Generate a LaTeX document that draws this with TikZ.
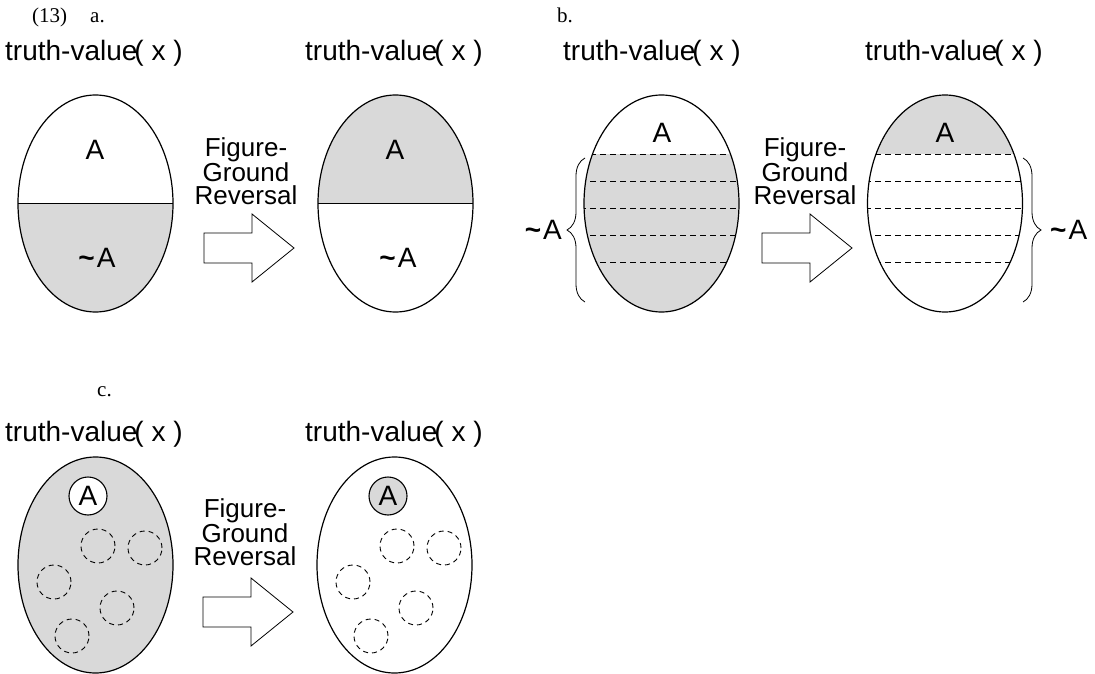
\documentclass[tikz,border=0pt]{standalone}
\usepackage{fontspec}
\setmainfont{Liberation Serif}
\newfontfamily\arialfont{Liberation Sans}
\usetikzlibrary{decorations.pathreplacing}
\definecolor{fillgray}{RGB}{217,217,217}
\tikzset{
  tag/.style={font=\fontsize{21}{21}\selectfont, inner sep=0pt, anchor=base west},
  title/.style={font=\arialfont\fontsize{28}{28}\selectfont, inner sep=0pt, anchor=base west},
  fgr/.style={font=\arialfont\fontsize{26}{23}\selectfont, inner sep=0pt, align=center, anchor=north},
  lbl/.style={font=\arialfont\fontsize{28}{28}\selectfont, inner sep=0pt},
  outline/.style={line width=1.2pt},
  split/.style={line width=1.6pt},
  level/.style={line width=0.8pt, dash pattern=on 6pt off 4pt},
  blob/.style={line width=0.9pt, dash pattern=on 5pt off 4pt},
  curly/.style={line width=0.8pt, decorate, decoration={brace, amplitude=18pt}},
  fatarrow/.pic={\draw[line width=0.8pt, fill=white]
      (0,-15) -- (48,-15) -- (48,-34) -- (90,0) -- (48,34) -- (48,15) -- (0,15) -- cycle;},
}
\newcommand{\notA}{{\bfseries\textasciitilde}\kern2pt A}
\newcommand{\truthval}{truth-value\kern-3pt( x )}
\newcommand{\fgrtext}{Figure-\\Ground\\Reversal}
\begin{document}
\begin{tikzpicture}[x=1pt, y=-1pt]
\useasboundingbox (0,0) rectangle (1095,674);

% ---------- headings ----------
\node[tag] (n13) at (32,23) {(13)};
\node[tag] (la) at (90,23) {a.};
\node[tag] (lb) at (557,23) {b.};
\node[tag] (lc) at (97,396) {c.};

% ---------- (a) ----------
\node[title] (ta1) at (5,61) {\truthval};
\node[title] (ta2) at (305,61) {\truthval};
\begin{scope}
  \clip (0,203.5) rectangle (200,330);
  \fill[fillgray] (95.5,203.5) ellipse [x radius=77.5pt, y radius=108.5pt];
\end{scope}
\begin{scope}
  \clip (300,80) rectangle (500,203.5);
  \fill[fillgray] (395.5,203.5) ellipse [x radius=77.5pt, y radius=108.5pt];
\end{scope}
\draw[outline] (95.5,203.5) ellipse [x radius=77.5pt, y radius=108.5pt];
\draw[outline] (395.5,203.5) ellipse [x radius=77.5pt, y radius=108.5pt];
\draw[split] (18,203.5) -- (173,203.5);
\draw[split] (318,203.5) -- (473,203.5);
\node[lbl] (a1top) at (95,150) {A};
\node[lbl] (a1bot) at (97,258) {\notA};
\node[lbl] (a2top) at (395,150) {A};
\node[lbl] (a2bot) at (398,258) {\notA};
\node[fgr] (fga) at (246,137) {\fgrtext};
\pic at (204,248) {fatarrow};

% ---------- (b) ----------
\node[title] (tb1) at (563,61) {\truthval};
\node[title] (tb2) at (865,61) {\truthval};
\begin{scope}
  \clip (661.5,203.5) ellipse [x radius=77.5pt, y radius=108.5pt];
  \fill[fillgray] (570,154) rectangle (750,320);
  \foreach \yy in {154,181,208,235,262} \draw[level] (580,\yy) -- (745,\yy);
\end{scope}
\begin{scope}
  \clip (945,203.5) ellipse [x radius=77.5pt, y radius=108.5pt];
  \fill[fillgray] (860,80) rectangle (1030,154);
  \foreach \yy in {154,181,208,235,262} \draw[level] (865,\yy) -- (1030,\yy);
\end{scope}
\draw[outline] (661.5,203.5) ellipse [x radius=77.5pt, y radius=108.5pt];
\draw[outline] (945,203.5) ellipse [x radius=77.5pt, y radius=108.5pt];
\node[lbl] (b1top) at (662,133) {A};
\node[lbl] (b2top) at (945,133) {A};
\draw[curly] (585,302) -- (585,158);
\draw[curly] (1023,158) -- (1023,302);
\node[lbl, anchor=east] (b1not) at (562,230) {\notA};
\node[lbl, anchor=west] (b2not) at (1050,230) {\notA};
\node[fgr] (fgb) at (805,137) {\fgrtext};
\pic at (762,248) {fatarrow};

% ---------- (c) ----------
\node[title] (tc1) at (5,441) {\truthval};
\node[title] (tc2) at (305,441) {\truthval};
\draw[outline, fill=fillgray] (95.5,565) ellipse [x radius=77.5pt, y radius=108pt];
\draw[outline] (394.5,565) ellipse [x radius=77.5pt, y radius=108pt];
\node[lbl, circle, draw, line width=1.1pt, fill=white, minimum size=38pt, inner sep=0pt] (c1a) at (88,496) {A};
\node[lbl, circle, draw, line width=1.1pt, fill=fillgray, minimum size=38pt, inner sep=0pt] (c2a) at (388,496) {A};
\foreach \px/\py in {98/546, 145/548, 54/582, 117/608, 72/636} {
  \draw[blob] (\px,\py) circle [radius=17pt];
  \draw[blob] (\px+299,\py) circle [radius=17pt];
}
\node[fgr] (fgc) at (245,498) {\fgrtext};
\pic at (203,612) {fatarrow};
\end{tikzpicture}
\end{document}
